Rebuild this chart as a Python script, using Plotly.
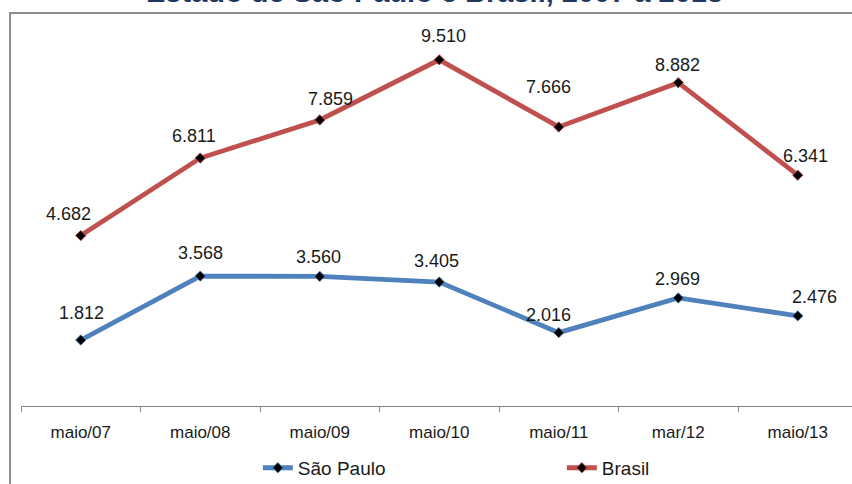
import plotly.graph_objects as go

# Série histórica (valores absolutos)
categorias = ["maio/07", "maio/08", "maio/09", "maio/10", "maio/11", "mar/12", "maio/13"]
sao_paulo = [1812, 3568, 3560, 3405, 2016, 2969, 2476]
brasil = [4682, 6811, 7859, 9510, 7666, 8882, 6341]

titulo = "Estado de São Paulo e Brasil, 2007 a 2013"

# Deslocamento (px) de cada rótulo em relação ao seu ponto
desloc_sp = [(1, 27), (0, 23), (-1, 19), (-3, 21), (-10, 18), (-1, 19), (17, 19)]
desloc_br = [(-12, 22), (-6, 22), (11, 21), (4, 24), (-10, 40), (-1, 18), (8, 19)]

AZUL = "#4F81BD"
VERMELHO = "#C0504D"
FONTE = "Liberation Sans, Arial, sans-serif"


def fmt(v):
    return f"{v:,}".replace(",", ".")


fig = go.Figure()
for nome, valores, cor in [("São Paulo", sao_paulo, AZUL), ("Brasil", brasil, VERMELHO)]:
    fig.add_trace(go.Scatter(
        x=categorias, y=valores, name=nome, mode="lines+markers",
        line=dict(color=cor, width=4.8),
        marker=dict(symbol="diamond", size=8, color="black",
                    line=dict(color=cor, width=1)),
        cliponaxis=False,
    ))

anotacoes = []
for valores, desloc in [(sao_paulo, desloc_sp), (brasil, desloc_br)]:
    for cat, v, (dx, dy) in zip(categorias, valores, desloc):
        anotacoes.append(dict(
            x=cat, y=v, xref="x", yref="y", text=fmt(v), showarrow=False,
            xanchor="center", yanchor="middle", xshift=dx, yshift=dy,
            font=dict(family=FONTE, size=18, color="#1a1a1a"),
        ))

# Título (parcialmente acima da área visível)
anotacoes.append(dict(
    x=0.497, y=1.088, xref="paper", yref="paper", text="<b>" + titulo + "</b>",
    showarrow=False, xanchor="center", yanchor="bottom",
    font=dict(family=FONTE, size=29, color="#1F3864"),
))

fig.update_layout(
    width=852, height=484,
    margin=dict(l=21, r=0, t=42, b=78, autoexpand=False),
    paper_bgcolor="white", plot_bgcolor="white",
    showlegend=True,
    legend=dict(
        orientation="h", x=0.285, xanchor="left", y=-0.170, yanchor="middle",
        font=dict(family=FONTE, size=19, color="#1a1a1a"),
        entrywidth=259, entrywidthmode="pixels",
        bgcolor="rgba(0,0,0,0)",
    ),
    xaxis=dict(
        type="category", range=[-0.5, 6.454],
        showline=True, linecolor="#868686", linewidth=1,
        ticks="outside", tickson="boundaries", ticklen=5, tickcolor="#868686",
        showgrid=False, zeroline=False, ticklabelstandoff=11,
        tickfont=dict(family=FONTE, size=17, color="#1a1a1a"),
    ),
    yaxis=dict(range=[0, 10000], visible=False, showgrid=False, zeroline=False),
    annotations=anotacoes,
    shapes=[dict(
        type="rect", xref="paper", yref="paper",
        x0=-0.0132, x1=1.05, y0=-0.35, y1=1.0797,
        line=dict(color="#8C8C8C", width=2), fillcolor="rgba(0,0,0,0)",
        layer="below",
    )],
)

fig.write_html("out.html")
